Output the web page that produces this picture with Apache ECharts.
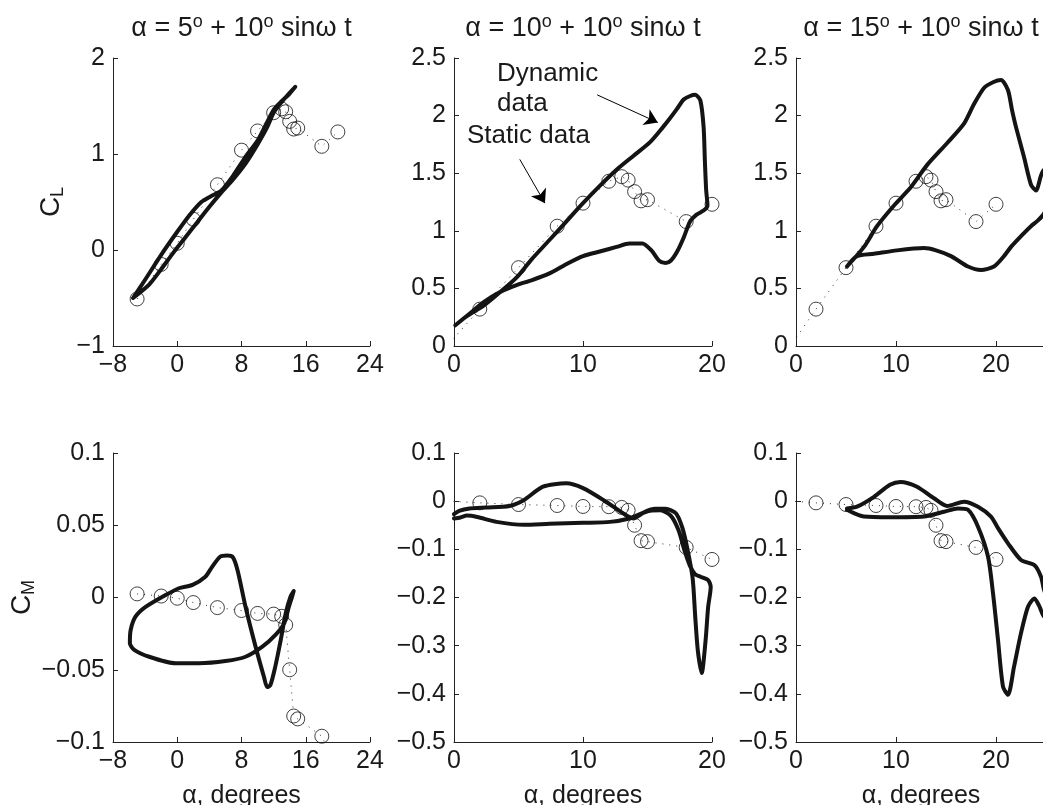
<!DOCTYPE html>
<html>
<head>
<meta charset="utf-8">
<script src="https://cdn.jsdelivr.net/npm/echarts@6/dist/echarts.min.js"></script>
<style>
html,body{margin:0;padding:0;background:#fff;}
#chart{width:1043px;height:805px;}
</style>
</head>
<body>
<div id="chart"></div>
<script>
// ---------- static (wind tunnel) data ----------
const alphaStatic = [-5, -2, 0, 2, 5, 8, 10, 12, 13, 13.5, 14, 14.5, 15, 18, 20];
const clStatic    = [-0.51, -0.15, 0.07, 0.32, 0.68, 1.04, 1.24, 1.43, 1.47, 1.44, 1.34, 1.26, 1.27, 1.08, 1.23];
const cmStatic    = [0.0025, 0.001, -0.0005, -0.0035, -0.007, -0.009, -0.011, -0.0115, -0.013, -0.019, -0.05, -0.082, -0.084, -0.096, -0.121];

// ---------- dynamic loops: alpha = 5 + 10 sin wt ----------
const dynAlpha5 = [-5.5, -4, -2, 0, 1.5, 3, 4.2, 5.5, 7, 8.5, 10, 11, 12, 13, 14, 14.7, 13.8, 12.8, 12, 11.2, 10, 8.5, 7, 5.5, 4, 2.5, 1, -0.5, -2, -3.5, -5.5];
const dynCL5    = [-0.5, -0.31, -0.05, 0.19, 0.36, 0.5, 0.56, 0.62, 0.78, 0.97, 1.14, 1.3, 1.46, 1.55, 1.63, 1.7, 1.62, 1.52, 1.43, 1.28, 1.1, 0.9, 0.74, 0.6, 0.45, 0.29, 0.13, -0.03, -0.2, -0.36, -0.5];
const dynAlpha5M = [14.5, 14.1, 13.5, 12.9, 12.2, 11.6, 11.2, 10.8, 9.75, 8.5, 7.5, 6.9, 6.2, 5.3, 4.2, 3.5, 1.9, 0.2, -1.45, -3.9, -5.2, -5.8, -5.9, -5.4, -3.5, -0.2, 2.7, 6, 8.5, 10.6, 12.2, 13.3, 13.9, 14.3, 14.5];
const dynCM5     = [0.0045, 0.0006, -0.011, -0.029, -0.048, -0.0606, -0.062, -0.055, -0.034, -0.0064, 0.019, 0.028, 0.029, 0.028, 0.02, 0.0144, 0.0087, 0.0064, 0.0017, -0.0064, -0.0133, -0.0225, -0.0317, -0.036, -0.041, -0.0455, -0.0455, -0.044, -0.041, -0.034, -0.026, -0.018, -0.0064, 0.0006, 0.0045];

// ---------- dynamic loops: alpha = 10 + 10 sin wt ----------
const dynAlpha10 = [0.1, 1, 2.3, 3.6, 4.9, 6, 7.4, 8.7, 10, 11.3, 12.6, 13.9, 15.2, 16.2, 16.7, 17.3, 17.8, 18.3, 18.7, 19.1, 19.35, 19.45, 19.55, 19.65, 19.4, 18.8, 18.3, 17.8, 17.3, 16.8, 16.4, 15.9, 15.3, 14.6, 13.6, 12.6, 11.3, 10, 8.7, 7.4, 6, 4.9, 3.6, 2.3, 1.2, 0.1];
const dynCL10    = [0.18, 0.26, 0.35, 0.47, 0.6, 0.75, 0.92, 1.08, 1.24, 1.39, 1.53, 1.65, 1.77, 1.9, 1.97, 2.06, 2.14, 2.17, 2.18, 2.13, 1.9, 1.6, 1.35, 1.22, 1.18, 1.14, 1.08, 0.94, 0.82, 0.74, 0.72, 0.74, 0.83, 0.89, 0.89, 0.86, 0.82, 0.78, 0.71, 0.63, 0.57, 0.53, 0.47, 0.38, 0.28, 0.18];
const dynAlpha10M = [0, 0.5, 1.0, 1.8, 3.3, 5.4, 7.4, 10, 12.1, 13.6, 14.4, 15.2, 16, 16.8, 17.4, 17.9, 18.3, 18.7, 19.1, 19.7, 19.9, 19.7, 19.5, 19.2, 18.9, 18.7, 18.5, 18.1, 17.7, 17.2, 16.4, 15.6, 14.8, 13.9, 13.1, 11.6, 10, 8.7, 6.9, 5.4, 4.3, 2.5, 1.2, 0.4, 0];
const dynCM10     = [-0.036, -0.034, -0.03, -0.033, -0.043, -0.049, -0.047, -0.045, -0.043, -0.036, -0.027, -0.02, -0.019, -0.03, -0.06, -0.105, -0.135, -0.152, -0.157, -0.164, -0.178, -0.22, -0.29, -0.357, -0.31, -0.24, -0.16, -0.1, -0.055, -0.025, -0.016, -0.016, -0.022, -0.036, -0.025, 0.002, 0.027, 0.037, 0.03, 0.002, -0.01, -0.013, -0.015, -0.02, -0.027];

// ---------- dynamic loops: alpha = 15 + 10 sin wt ----------
const dynAlpha15 = [5.1, 6.8, 8.1, 9.8, 11.5, 13.1, 15.1, 16.8, 17.8, 18.8, 19.7, 20.5, 21.2, 21.6, 22.0, 22.8, 23.5, 24.0, 24.5, 24.8, 25.2, 25.2, 24.8, 24.2, 23.5, 22.8, 21.5, 20.8, 19.8, 18.5, 17.2, 15.5, 14, 12.8, 10.1, 7.8, 6.1, 5.1];
const dynCL15    = [0.69, 0.86, 1.04, 1.22, 1.38, 1.57, 1.76, 1.93, 2.1, 2.24, 2.29, 2.31, 2.22, 2.05, 1.9, 1.64, 1.4, 1.35, 1.48, 1.53, 1.45, 1.25, 1.15, 1.09, 1.04, 0.98, 0.86, 0.78, 0.69, 0.66, 0.69, 0.78, 0.83, 0.85, 0.83, 0.8, 0.78, 0.69];
const dynAlpha15M = [5.1, 6.1, 7.8, 9.4, 10.45, 12.1, 13.8, 15.1, 16.8, 18.2, 19.5, 20.2, 21.2, 22.5, 23.85, 24.5, 24.8, 25.2, 24.8, 24.35, 23.85, 23.2, 22.5, 21.8, 21.2, 20.7, 20.2, 19.7, 19.2, 18.2, 17.2, 16.2, 14.8, 12.8, 9.4, 6.8, 5.8, 5.1];
const dynCM15     = [-0.015, -0.0115, 0.009, 0.034, 0.04, 0.03, 0.006, -0.01, -0.001, -0.0115, -0.032, -0.056, -0.0875, -0.122, -0.133, -0.157, -0.184, -0.21, -0.24, -0.219, -0.202, -0.219, -0.274, -0.344, -0.402, -0.385, -0.288, -0.191, -0.115, -0.053, -0.018, -0.015, -0.022, -0.032, -0.0335, -0.032, -0.025, -0.018];

// ---------- axes / labels ----------
const panelTitles = [['5', '10'], ['10', '10'], ['15', '10']];
const xTickSpecs = [[-8, 24, 8], [0, 20, 10], [0, 25, 10]];
const yTickSpecsCL = [[-1, 2, 1], [0, 2.5, 0.5], [0, 2.5, 0.5]];
const yTickSpecsCM = [[-0.1, 0.1, 0.05], [-0.5, 0.1, 0.1], [-0.5, 0.1, 0.1]];
const xAxisName = 'α, degrees';
const annotDynamicText = 'Dynamic\ndata';
const annotStaticText = 'Static data';
const arrowDynamic = [[11.1, 2.18], [15.8, 1.94]];
const arrowStatic = [[5.1, 1.62], [7.05, 1.24]];

const FONT = '"Liberation Sans", Arial, Helvetica, sans-serif';
const TXT = '#1a1a1a';

const boxes = [
  [113, 58, 257, 288], [454, 58, 258, 288], [796, 58, 250, 288],
  [113, 453, 257, 289], [454, 453, 258, 289], [796, 453, 250, 289]
];

const panels = [
  {dynA: dynAlpha5,  dynV: dynCL5,  stat: clStatic, xs: xTickSpecs[0], ys: yTickSpecsCL[0], yName: ['C', 'L'], gap: 46},
  {dynA: dynAlpha10, dynV: dynCL10, stat: clStatic, xs: xTickSpecs[1], ys: yTickSpecsCL[1]},
  {dynA: dynAlpha15, dynV: dynCL15, stat: clStatic, xs: xTickSpecs[2], ys: yTickSpecsCL[2]},
  {dynA: dynAlpha5M,  dynV: dynCM5,  stat: cmStatic, xs: xTickSpecs[0], ys: yTickSpecsCM[0], yName: ['C', 'M'], gap: 70, xName: true},
  {dynA: dynAlpha10M, dynV: dynCM10, stat: cmStatic, xs: xTickSpecs[1], ys: yTickSpecsCM[1], xName: true},
  {dynA: dynAlpha15M, dynV: dynCM15, stat: cmStatic, xs: xTickSpecs[2], ys: yTickSpecsCM[2], xName: true}
];

function fmt(spec) {
  return function (v) {
    const r = (v - spec[0]) / spec[2];
    if (Math.abs(r - Math.round(r)) > 1e-6) return '';
    const s = String(Math.round(v * 1000) / 1000);
    return s.replace('-', '\u2212');
  };
}

const grids = [], xAxes = [], yAxes = [], series = [], titles = [];

panels.forEach(function (p, i) {
  const b = boxes[i];
  grids.push({left: b[0], top: b[1], width: b[2], height: b[3], containLabel: false, outerBoundsMode: 'none', show: false});
  xAxes.push({
    type: 'value', gridIndex: i, min: p.xs[0], max: p.xs[1], interval: p.xs[2],
    axisLine: {show: true, onZero: false, lineStyle: {color: '#222', width: 1}},
    axisTick: {show: true, inside: true, length: 5, lineStyle: {color: '#222', width: 1}},
    splitLine: {show: false},
    axisLabel: {show: true, margin: 7, fontSize: 25, fontFamily: FONT, color: TXT, formatter: fmt(p.xs), hideOverlap: false},
    name: p.xName ? xAxisName : '', nameLocation: 'middle', nameGap: 42,
    nameTextStyle: {fontSize: 25, fontFamily: FONT, color: TXT}
  });
  const yAx = {
    type: 'value', gridIndex: i, min: p.ys[0], max: p.ys[1], interval: p.ys[2],
    axisLine: {show: true, onZero: false, lineStyle: {color: '#222', width: 1}},
    axisTick: {show: true, inside: true, length: 5, lineStyle: {color: '#222', width: 1}},
    splitLine: {show: false},
    axisLabel: {show: true, margin: 8, fontSize: 25, fontFamily: FONT, color: TXT, formatter: fmt(p.ys), hideOverlap: false}
  };
  if (p.yName) {
    yAx.name = '{c|' + p.yName[0] + '}{s|' + p.yName[1] + '}';
    yAx.nameLocation = 'middle';
    yAx.nameRotate = 90;
    yAx.nameGap = p.gap;
    yAx.nameTextStyle = {
      rich: {
        c: {fontSize: 28, fontFamily: FONT, color: TXT, lineHeight: 32},
        s: {fontSize: 18, fontFamily: FONT, color: TXT, verticalAlign: 'bottom'}
      }
    };
  }
  yAxes.push(yAx);

  const statPts = alphaStatic.map(function (a, k) { return [a, p.stat[k]]; });
  series.push({
    type: 'line', xAxisIndex: i, yAxisIndex: i, data: statPts,
    showSymbol: false, symbol: 'none', clip: true, silent: true,
    lineStyle: {color: '#333', width: 1, type: [1, 6]}, z: 2
  });
  const dyn = {
    type: 'line', xAxisIndex: i, yAxisIndex: i,
    data: p.dynA.map(function (a, k) { return [a, p.dynV[k]]; }),
    showSymbol: false, symbol: 'none', clip: true, smooth: 0.25, silent: true,
    lineStyle: {color: '#141414', width: 4, cap: 'round', join: 'round'}, z: 3
  };
  if (i === 1) {
    dyn.markLine = {
      silent: true, animation: false,
      symbol: ['none', 'arrow'], symbolSize: 13,
      label: {show: false},
      lineStyle: {color: '#000', width: 1, type: 'solid'},
      data: [
        [{coord: arrowDynamic[0]}, {coord: arrowDynamic[1]}],
        [{coord: arrowStatic[0]}, {coord: arrowStatic[1]}]
      ]
    };
  }
  series.push(dyn);
  series.push({
    type: 'scatter', xAxisIndex: i, yAxisIndex: i, clip: true, silent: true,
    data: statPts.filter(function (d) { return d[0] > p.xs[0] && d[0] <= p.xs[1]; }),
    symbol: 'circle', symbolSize: 14,
    itemStyle: {color: 'rgba(0,0,0,0)', borderColor: '#111', borderWidth: 1}, z: 4
  });
});

panelTitles.forEach(function (t, i) {
  const b = boxes[i];
  titles.push({
    text: '{n|α = ' + t[0] + '}{s|o}{n| + ' + t[1] + '}{s|o}{n| sinω t}',
    left: b[0] + b[2] / 2, top: 13, textAlign: 'center', padding: 0,
    textStyle: {
      fontWeight: 'normal',
      rich: {
        n: {fontSize: 27, fontFamily: FONT, fontWeight: 'normal', color: TXT, lineHeight: 32},
        s: {fontSize: 18, fontFamily: FONT, fontWeight: 'normal', color: TXT, verticalAlign: 'top'}
      }
    }
  });
});

const chart = echarts.init(document.getElementById('chart'), null, {renderer: 'canvas'});
chart.setOption({
  backgroundColor: '#ffffff',
  animation: false,
  title: titles,
  grid: grids,
  xAxis: xAxes,
  yAxis: yAxes,
  series: series,
  graphic: [
    {type: 'text', left: 497, top: 59, style: {text: annotDynamicText, font: '26px ' + FONT, fill: TXT, lineHeight: 30}},
    {type: 'text', left: 467, top: 121, style: {text: annotStaticText, font: '26px ' + FONT, fill: TXT, lineHeight: 30}}
  ]
});
</script>
</body>
</html>
